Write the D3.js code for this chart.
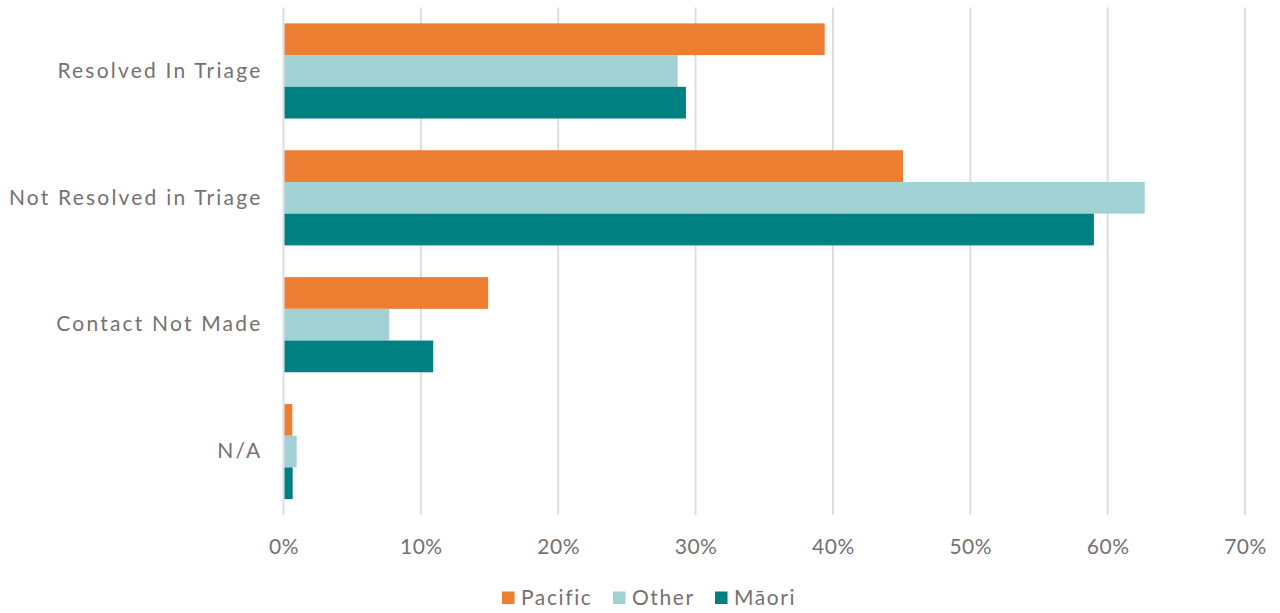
<!DOCTYPE html>
<html>
<head>
<meta charset="utf-8">
<script src="https://cdn.jsdelivr.net/npm/d3@7"></script>
<style>
  body { margin: 0; background: #fff; }
  text { font-family: Lato, "Open Sans", sans-serif; fill: #767171; }
</style>
</head>
<body>
<div id="chart-area"></div>
<script>
// data
const categories = ["Resolved In Triage", "Not Resolved in Triage", "Contact Not Made", "N/A"];
const seriesNames = ["Pacific", "Other", "Māori"];
const seriesColors = ["#ED7D31", "#A1D1D3", "#008080"];
const pacific = [39.4, 45.1, 14.9, 0.64];
const other = [28.7, 62.7, 7.7, 0.96];
const maori = [29.3, 59.0, 10.9, 0.67];
const xTicks = [0, 10, 20, 30, 40, 50, 60, 70];

const full_width = 1280, full_height = 613;
const margin = { left: 283.5, right: 35, top: 7.5, bottom: 98 };
const width = full_width - margin.left - margin.right,
    height = full_height - margin.top - margin.bottom;

const svg = d3.select("#chart-area")
    .append("svg")
    .attr("width", full_width)
    .attr("height", full_height);

const g = svg.append("g")
    .attr("transform", "translate(" + margin.left + ", " + margin.top + ")");

const values = [pacific, other, maori];

const x = d3.scaleLinear()
    .domain([0, 70])
    .range([0, width]);

const y0 = d3.scaleBand()
    .domain(categories)
    .range([0, height])
    .paddingInner(0.25)
    .paddingOuter(0.125);

const y1 = d3.scaleBand()
    .domain(seriesNames)
    .range([0, y0.bandwidth()]);

// gridlines
g.selectAll("line.grid")
    .data(xTicks)
    .enter()
    .append("line")
        .attr("class", "grid")
        .attr("x1", d => x(d))
        .attr("x2", d => x(d))
        .attr("y1", 0)
        .attr("y2", height)
        .attr("stroke", "#D9DEE6")
        .attr("stroke-width", 2);

// bars
const groups = g.selectAll("g.cat")
    .data(categories)
    .enter()
    .append("g")
        .attr("class", "cat")
        .attr("transform", d => "translate(0," + y0(d) + ")");

groups.selectAll("rect")
    .data((c, ci) => seriesNames.map((s, si) => ({ s: s, v: values[si][ci], color: seriesColors[si] })))
    .enter()
    .append("rect")
        .attr("x", x(0) + 1)
        .attr("y", d => y1(d.s))
        .attr("width", d => x(d.v) - x(0) - 1)
        .attr("height", y1.bandwidth())
        .attr("fill", d => d.color);

// x axis labels
const xAxisCall = d3.axisBottom(x)
    .tickValues(xTicks)
    .tickSize(0)
    .tickPadding(24)
    .tickFormat(d => d + "%");
const xAxis = g.append("g")
    .attr("class", "x axis")
    .attr("transform", "translate(0, " + height + ")")
    .call(xAxisCall);
xAxis.select(".domain").remove();
xAxis.selectAll("text")
    .attr("font-size", "21px")
    .style("fill", "#767171")
    .style("font-family", "Lato, sans-serif")
    .style("letter-spacing", "0.5px");

// category labels
const yAxisCall = d3.axisLeft(y0)
    .tickSize(0)
    .tickPadding(21);
const yAxis = g.append("g")
    .attr("class", "y axis")
    .call(yAxisCall);
yAxis.select(".domain").remove();
yAxis.selectAll("text")
    .attr("font-size", "21px")
    .style("fill", "#767171")
    .style("font-family", "Lato, sans-serif")
    .style("letter-spacing", "2.2px");

// legend
const legendX = [502, 613, 715];
const legend = svg.selectAll("g.legend")
    .data(seriesNames)
    .enter()
    .append("g")
        .attr("class", "legend")
        .attr("transform", (d, i) => "translate(" + legendX[i] + ", 591.5)");

legend.append("rect")
    .attr("width", 12.5)
    .attr("height", 12.5)
    .attr("fill", (d, i) => seriesColors[i]);

legend.append("text")
    .attr("x", 19)
    .attr("y", 6.5)
    .attr("dy", "0.35em")
    .attr("font-size", "21px")
    .style("letter-spacing", "1.6px")
    .text(d => d);
</script>
</body>
</html>
